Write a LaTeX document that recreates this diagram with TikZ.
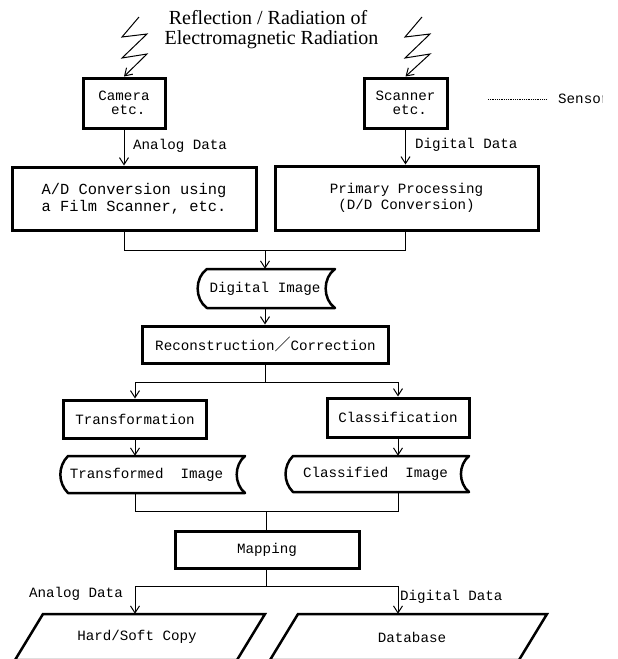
\documentclass[tikz,border=0pt]{standalone}
\usepackage{fontspec}
\setmainfont{Liberation Serif}
\newfontfamily\monof{Liberation Mono}
\newfontfamily\cjkf{Noto Sans CJK JP}
\usetikzlibrary{arrows.meta,calc}
\begin{document}
\begin{tikzpicture}[x=1pt,y=-1pt,
  txt/.style={font=\monof\fontsize{14.2}{14.2}\selectfont},
  procbox/.style={draw, line width=3pt, inner sep=0pt, align=center, txt},
  conn/.style={line width=1pt},
  arr/.style={conn, -{Straight Barb[length=7pt,width=9pt]}},
  store/.style={line width=2.5pt, line join=round},
  para/.style={line width=2.5pt, line join=miter},
  lbl/.style={txt, inner sep=0pt},
  title/.style={font=\fontsize{20}{20}\selectfont, inner sep=0pt, anchor=base}
]
\path[use as bounding box] (0,0) rectangle (618,659);
\clip (0,0) rectangle (618,659);

% title
\node[title] (t1) at (268,24.5) {Reflection / Radiation of};
\node[title] (t2) at (271.5,44) {Electromagnetic Radiation};

% sensors
\node[procbox, minimum width=82pt, minimum height=50pt] (cam) at (124,103) {Camera\\\hphantom{x}etc.};
\node[procbox, minimum width=83pt, minimum height=50pt] (scn) at (405.5,103) {Scanner\\\hphantom{x}etc.};

% lightning
\coordinate (lz1) at (139,17);
\coordinate (lz2) at (422,17);
\draw[arr] (lz1) -- (122,37) -- (147,34) -- (122,58) -- (147,54) -- (cam.north);
\draw[arr] (lz2) -- (405,37) -- (430,34) -- (405,58) -- (430,54) -- (scn.north);

% sensor label
\coordinate (sd) at (488,99);
\begin{scope}
\clip (0,0) rectangle (602,659);
\node[lbl, anchor=west] (sen) at (558,99) {Sensor};
\end{scope}
\draw[line width=0.6pt, dash pattern=on 0.7pt off 1.1pt, shorten >=11pt] (sd) -- (sen.west);

% processing boxes
\node[procbox, minimum width=244pt, minimum height=63pt, font=\monof\fontsize{15.4}{17}\selectfont] (ad) at (134,198.5) {A/D Conversion using\\a Film Scanner, etc.};
\node[procbox, minimum width=263pt, minimum height=64pt, font=\monof\fontsize{14.2}{16}\selectfont] (pp) at (406.5,198) {Primary Processing\\(D/D Conversion)};

\draw[arr] (cam.south) -- (cam.south |- ad.north);
\node[lbl, anchor=west] (la1) at (133,146) {Analog Data};
\draw[arr] (scn.south) -- (scn.south |- pp.north);
\node[lbl, anchor=west] (ld1) at (415,145) {Digital Data};

% merge to digital image
\coordinate (m1) at (265,250);
\draw[conn] (ad.south -| cam) -- (m1 -| cam) -- (m1 -| scn) -- (pp.south -| scn);
\node[lbl, minimum width=120pt, minimum height=39pt] (di) at (265,288.5) {Digital Image};
\draw[store] (207,269) -- (335,269) to[bend right=55] (335,308) -- (207,308) to[bend left=55] cycle;
\draw[arr] (m1) -- (di.north);

\node[procbox, minimum width=246pt, minimum height=37pt] (rc) at (265.5,344.5) {Reconstruction{\cjkf\fontsize{16}{16}\selectfont ／}Correction};
\draw[arr] (di.south) -- (di.south |- rc.north);

% branch
\coordinate (b1) at (265,382);
\draw[conn] (rc.south -| b1) -- (b1);
\node[procbox, minimum width=143pt, minimum height=38pt] (tr) at (135,419) {Transformation};
\node[procbox, minimum width=142pt, minimum height=39pt] (cl) at (398,417.5) {Classification};
\draw[arr] (b1) -| (tr.north);
\draw[arr] (b1) -| (cl.north);

% stored images
\node[lbl, minimum height=37pt] (ti) at (146.5,474.5) {Transformed\ \ Image};
\draw[store] (68,456) -- (245,456) to[bend right=50] (245,493) -- (68,493) to[bend left=45] cycle;
\draw[arr] (tr.south) -- (tr.south |- ti.north);
\node[lbl, minimum height=36pt] (ci) at (375.5,474) {Classified\ \ Image};
\draw[store] (293,456) -- (469,456) to[bend right=50] (469,492) -- (293,492) to[bend left=45] cycle;
\draw[arr] (cl.south) -- (cl.south |- ci.north);

% merge to mapping
\coordinate (m2) at (266,511);
\draw[conn] (ti.south -| tr) -- (m2 -| tr) -- (m2 -| cl) -- (ci.south -| cl);
\node[procbox, minimum width=184pt, minimum height=37pt] (mp) at (267,549.5) {Mapping};
\draw[conn] (m2) -- (m2 |- mp.north);

% outputs
\coordinate (b2) at (266,586);
\draw[conn] (b2 |- mp.south) -- (b2);
\node[lbl, minimum height=46pt] (hs) at (137,637) {Hard/Soft Copy};
\node[lbl, minimum height=46pt] (db) at (412,637) {Database};
\draw[para] (43,614) -- (265,614) -- (237,660) -- (15,660) -- cycle;
\draw[para] (298,614) -- (547,614) -- (519,660) -- (270,660) -- cycle;
\draw[arr] (b2) -| (tr |- hs.north);
\draw[arr] (b2) -| (cl |- db.north);
\node[lbl, anchor=east] (la2) at (123,594) {Analog Data};
\node[lbl, anchor=west] (ld2) at (400,597) {Digital Data};
\end{tikzpicture}
\end{document}
